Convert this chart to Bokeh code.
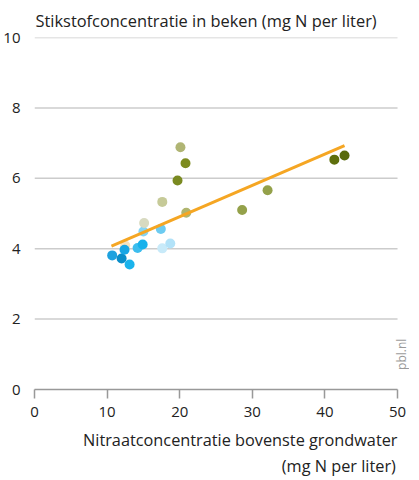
from bokeh.plotting import figure
from bokeh.models import Range1d, Title, FixedTicker, Label
from bokeh.embed import file_html
from bokeh.resources import INLINE

# groundwater nitrate (x) vs stream nitrogen (y)
x_vals = [10.7, 12.0, 12.5, 12.4, 13.1, 14.2, 14.9, 15.0, 15.1, 17.4, 17.6, 18.7,
          17.6, 20.1, 20.8, 19.7, 20.9, 28.6, 32.1, 41.3, 42.7]
y_vals = [3.81, 3.72, 4.09, 3.97, 3.55, 4.02, 4.12, 4.49, 4.73, 4.56, 4.01, 4.15,
          5.33, 6.88, 6.43, 5.94, 5.02, 5.10, 5.66, 6.53, 6.65]
colors = ["#1ea2df", "#0a8ec9", "#f6e2c0", "#18a6e4", "#1ab3ec", "#3dbdee", "#17b1eb",
          "#86d4f3", "#d8dac0", "#6ccbf1", "#c8eaf9", "#b2e2f8",
          "#c6ca98", "#b0b574", "#7d8b1e", "#7a8a21", "#b0b56e", "#94a14a", "#94a14a",
          "#5e6f0c", "#586a0a"]

trend_x = [10.6, 42.7]
trend_y = [4.07, 6.93]

x_ticks = [0, 10, 20, 30, 40, 50]
y_ticks = [0, 2, 4, 6, 8, 10]
grid_y = [2, 4, 6, 8, 10]

FONT = "Open Sans"
TXT = "#222222"

p = figure(frame_width=375, frame_height=352, output_backend="svg", toolbar_location=None,
           x_range=Range1d(0, 51.65), y_range=Range1d(0, 10),
           min_border_left=28, min_border_right=0, min_border_top=0,
           min_border_bottom=0)
p.outline_line_color = None
p.background_fill_color = "white"
p.border_fill_color = "white"

p.title.text = "Stikstofconcentratie in beken (mg N per liter)"
p.title.text_font = FONT
p.title.text_font_size = "16.4px"
p.title.text_font_style = "normal"
p.title.text_color = TXT
p.title.align = "left"
p.title.offset = 1
p.title.standoff = 12

p.xgrid.grid_line_color = None
p.ygrid.grid_line_color = None

# horizontal grid lines spanning 0..50
p.segment(x0=[x_ticks[0]] * len(grid_y), x1=[x_ticks[-1]] * len(grid_y),
          y0=grid_y, y1=grid_y, line_color="#cccccc", line_width=1.5)

p.yaxis.ticker = FixedTicker(ticks=y_ticks)
p.yaxis.axis_line_color = None
p.yaxis.major_tick_line_color = None
p.yaxis.minor_tick_line_color = None
p.yaxis.major_label_text_font = FONT
p.yaxis.major_label_text_font_size = "15px"
p.yaxis.major_label_text_color = TXT
p.yaxis.major_label_standoff = 8

p.xaxis.ticker = FixedTicker(ticks=x_ticks)
p.xaxis.bounds = (0, 50)
p.xaxis.axis_line_color = "#999999"
p.xaxis.axis_line_width = 1.5
p.xaxis.major_tick_line_color = "#999999"
p.xaxis.major_tick_line_width = 1.5
p.xaxis.major_tick_in = 0
p.xaxis.major_tick_out = 9
p.xaxis.minor_tick_line_color = None
p.xaxis.major_label_text_font = FONT
p.xaxis.major_label_text_font_size = "15px"
p.xaxis.major_label_text_color = TXT
p.xaxis.major_label_standoff = 8

line1 = "Nitraatconcentratie bovenste grondwater"
line2 = "\u00a0" * 47 + "(mg N per liter)"
t1 = Title(text=line1 + "\n" + line2, align="right",
           text_font=FONT, text_font_size="16.3px", text_font_style="normal",
           text_color=TXT, standoff=16, offset=12, text_line_height=1.2)
p.add_layout(t1, "below")

p.scatter(x_vals, y_vals, size=10, color=colors, line_color=None)
p.line(trend_x, trend_y, line_color="#f5a623", line_width=3)

lbl = Label(x=50.5, y=1.0, x_units="data", y_units="data", text="pbl.nl", angle=1.5708,
            text_font=FONT, text_font_size="12px", text_align="center",
            text_color="#999999", text_baseline="middle")
p.add_layout(lbl)

open("out.html", "w").write(file_html(p, INLINE))
